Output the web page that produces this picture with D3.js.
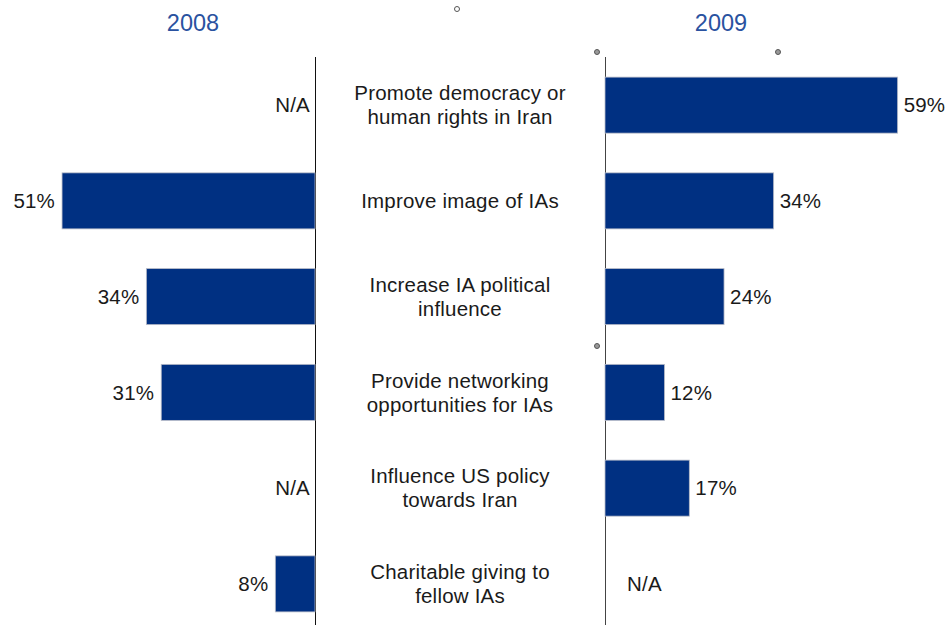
<!DOCTYPE html>
<html>
<head>
<meta charset="utf-8">
<script src="https://cdn.jsdelivr.net/npm/d3@7"></script>
<style>
html,body{margin:0;padding:0;background:#fff;}
svg{display:block;}
text{font-family:"Liberation Sans",Arial,sans-serif;}
</style>
</head>
<body>
<svg id="chart" width="951" height="625"></svg>
<script>
const categories = [
  ["Promote democracy or", "human rights in Iran"],
  ["Improve image of IAs"],
  ["Increase IA political", "influence"],
  ["Provide networking", "opportunities for IAs"],
  ["Influence US policy", "towards Iran"],
  ["Charitable giving to", "fellow IAs"]
];
const values2008 = [null, 51, 34, 31, null, 8];
const values2009 = [59, 34, 24, 12, 17, null];
const yearLabels = ["2008", "2009"];

const W = 951, H = 625;
const svg = d3.select("#chart");
const barColor = "#003082";
const textColor = "#1a1a1a";
const titleColor = "#2a52a0";
const fs = 20.5;
const ls = 0.2;

const y = d3.scaleBand()
  .domain(d3.range(categories.length))
  .range([57, 632])
  .paddingInner(0.415)
  .paddingOuter(0.21);

const leftAxisX = 315, rightAxisX = 605;
const xL = d3.scaleLinear().domain([0, 60]).range([leftAxisX, leftAxisX - 297.6]);
const xR = d3.scaleLinear().domain([0, 60]).range([rightAxisX, rightAxisX + 297.6]);

// titles
svg.append("text").attr("x", 193).attr("y", 31).attr("text-anchor", "middle")
  .attr("font-size", 23.5).attr("fill", titleColor).text(yearLabels[0]);
svg.append("text").attr("x", 721).attr("y", 31).attr("text-anchor", "middle")
  .attr("font-size", 23.5).attr("fill", titleColor).text(yearLabels[1]);

// decorative markers (present in reference)
svg.append("circle").attr("cx", 457).attr("cy", 9).attr("r", 2.5)
  .attr("fill", "#fff").attr("stroke", "#555").attr("stroke-width", 1);
[[597, 52], [778, 52], [597, 346]].forEach(p => {
  svg.append("circle").attr("cx", p[0]).attr("cy", p[1]).attr("r", 2.5)
    .attr("fill", "#999").attr("stroke", "#555").attr("stroke-width", 1);
});

// axis lines
svg.append("line").attr("x1", leftAxisX + 0.5).attr("x2", leftAxisX + 0.5)
  .attr("y1", 57).attr("y2", H).attr("stroke", "#111").attr("stroke-width", 1);
svg.append("line").attr("x1", rightAxisX + 0.5).attr("x2", rightAxisX + 0.5)
  .attr("y1", 57).attr("y2", H).attr("stroke", "#444").attr("stroke-width", 1);

// left bars
const gL = svg.append("g");
values2008.forEach((v, i) => {
  const yc = y(i) + y.bandwidth() / 2;
  if (v === null) {
    gL.append("text").attr("x", leftAxisX - 5).attr("y", yc).attr("dy", "0.35em")
      .attr("text-anchor", "end").attr("font-size", fs).attr("letter-spacing", ls)
      .attr("fill", textColor).text("N/A");
  } else {
    gL.append("rect").attr("x", xL(v)).attr("y", y(i))
      .attr("width", xL(0) - xL(v)).attr("height", y.bandwidth())
      .attr("fill", barColor).attr("stroke", "#b8bcc8").attr("stroke-width", 0.8);
    gL.append("text").attr("x", xL(v) - 7).attr("y", yc).attr("dy", "0.35em")
      .attr("text-anchor", "end").attr("font-size", fs).attr("letter-spacing", ls)
      .attr("fill", textColor).text(v + "%");
  }
});

// right bars
const gR = svg.append("g");
values2009.forEach((v, i) => {
  const yc = y(i) + y.bandwidth() / 2;
  if (v === null) {
    gR.append("text").attr("x", rightAxisX + 22).attr("y", yc).attr("dy", "0.35em")
      .attr("text-anchor", "start").attr("font-size", fs).attr("letter-spacing", ls)
      .attr("fill", textColor).text("N/A");
  } else {
    gR.append("rect").attr("x", xR(0)).attr("y", y(i))
      .attr("width", xR(v) - xR(0)).attr("height", y.bandwidth())
      .attr("fill", barColor).attr("stroke", "#b8bcc8").attr("stroke-width", 0.8);
    gR.append("text").attr("x", xR(v) + 6).attr("y", yc).attr("dy", "0.35em")
      .attr("text-anchor", "start").attr("font-size", fs).attr("letter-spacing", ls)
      .attr("fill", textColor).text(v + "%");
  }
});

// category labels
const lineH = 24;
categories.forEach((lines, i) => {
  const yc = y(i) + y.bandwidth() / 2;
  const t = svg.append("text").attr("text-anchor", "middle")
    .attr("font-size", fs).attr("letter-spacing", ls).attr("fill", textColor);
  lines.forEach((ln, j) => {
    t.append("tspan").attr("x", 460)
      .attr("y", yc + (j - (lines.length - 1) / 2) * lineH)
      .attr("dy", "0.35em").text(ln);
  });
});
</script>
</body>
</html>
